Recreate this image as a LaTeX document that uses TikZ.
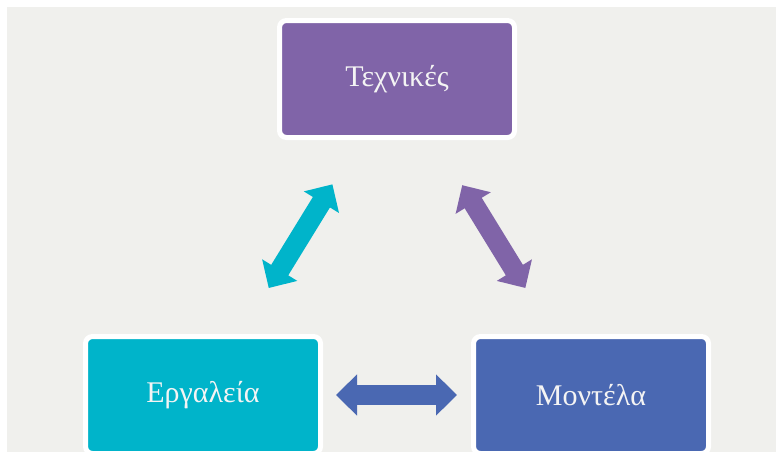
\documentclass[tikz,border=0pt]{standalone}
\usepackage{fontspec}
\setmainfont{Liberation Serif}
\usepackage{tikz}
\usetikzlibrary{arrows.meta}
\usepackage{xcolor}
\definecolor{bgcol}{HTML}{F0F0ED}
\definecolor{techcol}{HTML}{8064A8}
\definecolor{toolcol}{HTML}{00B4CA}
\definecolor{modcol}{HTML}{4A68B2}
\definecolor{txtcol}{HTML}{F4F4F4}
\tikzstyle{box}=[rectangle, rounded corners=7pt, draw=white, line width=5pt, minimum width=235pt, minimum height=117pt, text=txtcol, font=\fontsize{30}{36}\selectfont]
\tikzstyle{dbl}=[line width=20pt, {Triangle[width=40pt,length=21pt]}-{Triangle[width=40pt,length=21pt]}]

\begin{document}
\begin{tikzpicture}[x=1pt,y=-1pt]
\fill[white] (0,0) rectangle (776,455);
\fill[bgcol] (7,7) rectangle (776,452);
\useasboundingbox (0,0) rectangle (776,455);
\node[box, fill=techcol] (tech) at (397,79) {Τεχνικές};
\node[box, fill=toolcol] (tool) at (203,395) {Εργαλεία};
\node[box, fill=modcol] (mod) at (591,395) {Μοντέλα};
\draw[dbl, toolcol, shorten <=54pt, shorten >=52pt] (tool) -- (tech);
\draw[dbl, techcol, shorten <=53pt, shorten >=54pt] (tech) -- (mod);
\draw[dbl, modcol, shorten <=13pt, shorten >=14pt] (tool) -- (mod);
\end{tikzpicture}
\end{document}
